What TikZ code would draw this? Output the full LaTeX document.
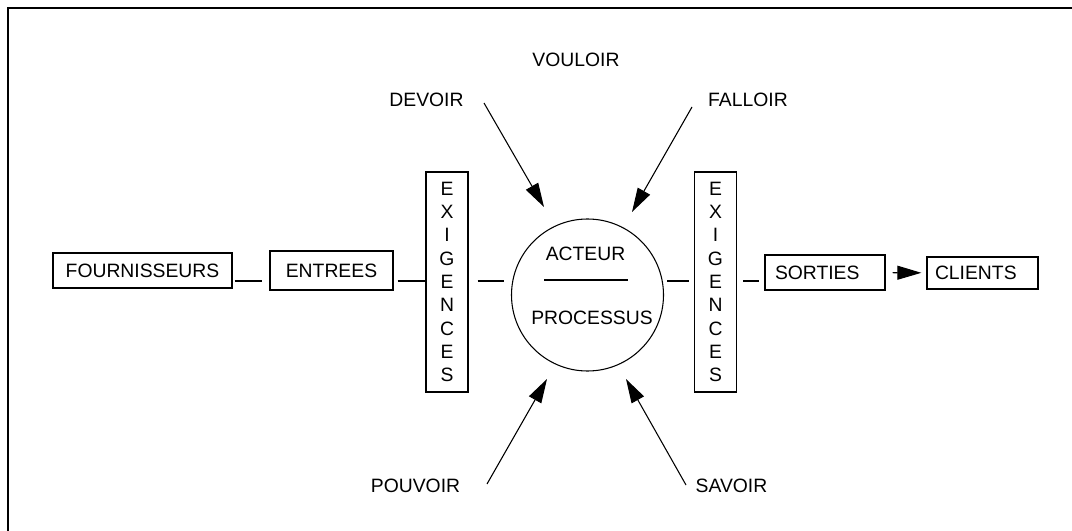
\documentclass[tikz,border=0pt]{standalone}
\usepackage{fontspec}
\setmainfont{Liberation Sans}
\usetikzlibrary{shapes.geometric, arrows.meta}
\tikzstyle{boxes} = [rectangle, draw=black, line width=1pt, inner sep=0pt, text centered]
\tikzstyle{tallbox} = [boxes, minimum width=31.5pt, minimum height=165pt, align=center]
\tikzstyle{label} = [inner sep=0pt]
\tikzstyle{link} = [line width=0.8pt]
\tikzstyle{arrow} = [line width=0.8pt, -{Triangle[length=18pt, width=10.5pt]}]

\begin{document}
\begin{tikzpicture}[x=0.75pt, y=-0.75pt, font=\fontsize{14.5}{17.5}\selectfont]

    \useasboundingbox (0,0) rectangle (1072,531);
    \draw[line width=1.5pt] (1072,8) -- (8,8) -- (8,531);

    \coordinate (row) at (0,281);

    \node (fourn) [boxes, minimum width=134.25pt, minimum height=26.25pt] at (142.5,270.5) {FOURNISSEURS};

    \node (entrees) [boxes, minimum width=92.25pt, minimum height=29.25pt] at (331.5,270.5) {ENTREES};

    \node (exigL) [tallbox] at (447,282) {E\\X\\I\\G\\E\\N\\C\\E\\S};

    \node (proc) [circle, draw=black, line width=0.8pt, minimum size=114pt] at (587.5,295) {};

    \node (acteur) [label] at (585.5,254) {ACTEUR};

    \node (processus) [label] at (592,318) {PROCESSUS};

    \draw[link] (544,280) -- (628,280);

    \node (exigR) [tallbox] at (715.5,282) {E\\X\\I\\G\\E\\N\\C\\E\\S};

    \node (sorties) [boxes, inner xsep=7.5pt, text width=75pt, align=left, minimum height=26.25pt] at (825,272.5) {SORTIES};

    \node (clients) [boxes, inner xsep=6pt, text width=71.25pt, align=left, minimum height=24pt] at (982.5,273) {CLIENTS};

    \node (vouloir) [label] at (576,60) {VOULOIR};
    \node (devoir) [label] at (426.5,100) {DEVOIR};
    \node (falloir) [label] at (748,100) {FALLOIR};
    \node (pouvoir) [label] at (415.5,486) {POUVOIR};
    \node (savoir) [label] at (731.5,486) {SAVOIR};

    \coordinate (devoir-a) at (484,103);
    \coordinate (devoir-b) at (544,207);
    \coordinate (falloir-a) at (692,107);
    \coordinate (falloir-b) at (632,212);
    \coordinate (pouvoir-a) at (487,484);
    \coordinate (pouvoir-b) at (547,379);
    \coordinate (savoir-a) at (686,485);
    \coordinate (savoir-b) at (626,379);

    \draw[link, shorten <=1.5pt, shorten >=5.25pt] (fourn.east |- row) -- (entrees.west |- row);
    \draw[link, shorten <=3pt] (entrees.east |- row) -- (exigL.west |- row);
    \draw[link, shorten <=6.75pt, shorten >=4.9pt] (exigL.east |- row) -- (proc.west |- row);
    \draw[link, shorten <=2.25pt, shorten >=3.75pt] (proc.east |- row) -- (exigR.west |- row);
    \draw[link, shorten <=4.5pt, shorten >=3.75pt] (exigR.east |- row) -- (sorties.west |- row);
    \draw[arrow, shorten <=5.25pt, shorten >=3.75pt] (sorties) -- (clients);

    \draw[arrow] (devoir-a) -- (devoir-b);
    \draw[arrow] (falloir-a) -- (falloir-b);
    \draw[arrow] (pouvoir-a) -- (pouvoir-b);
    \draw[arrow] (savoir-a) -- (savoir-b);

\end{tikzpicture}
\end{document}
